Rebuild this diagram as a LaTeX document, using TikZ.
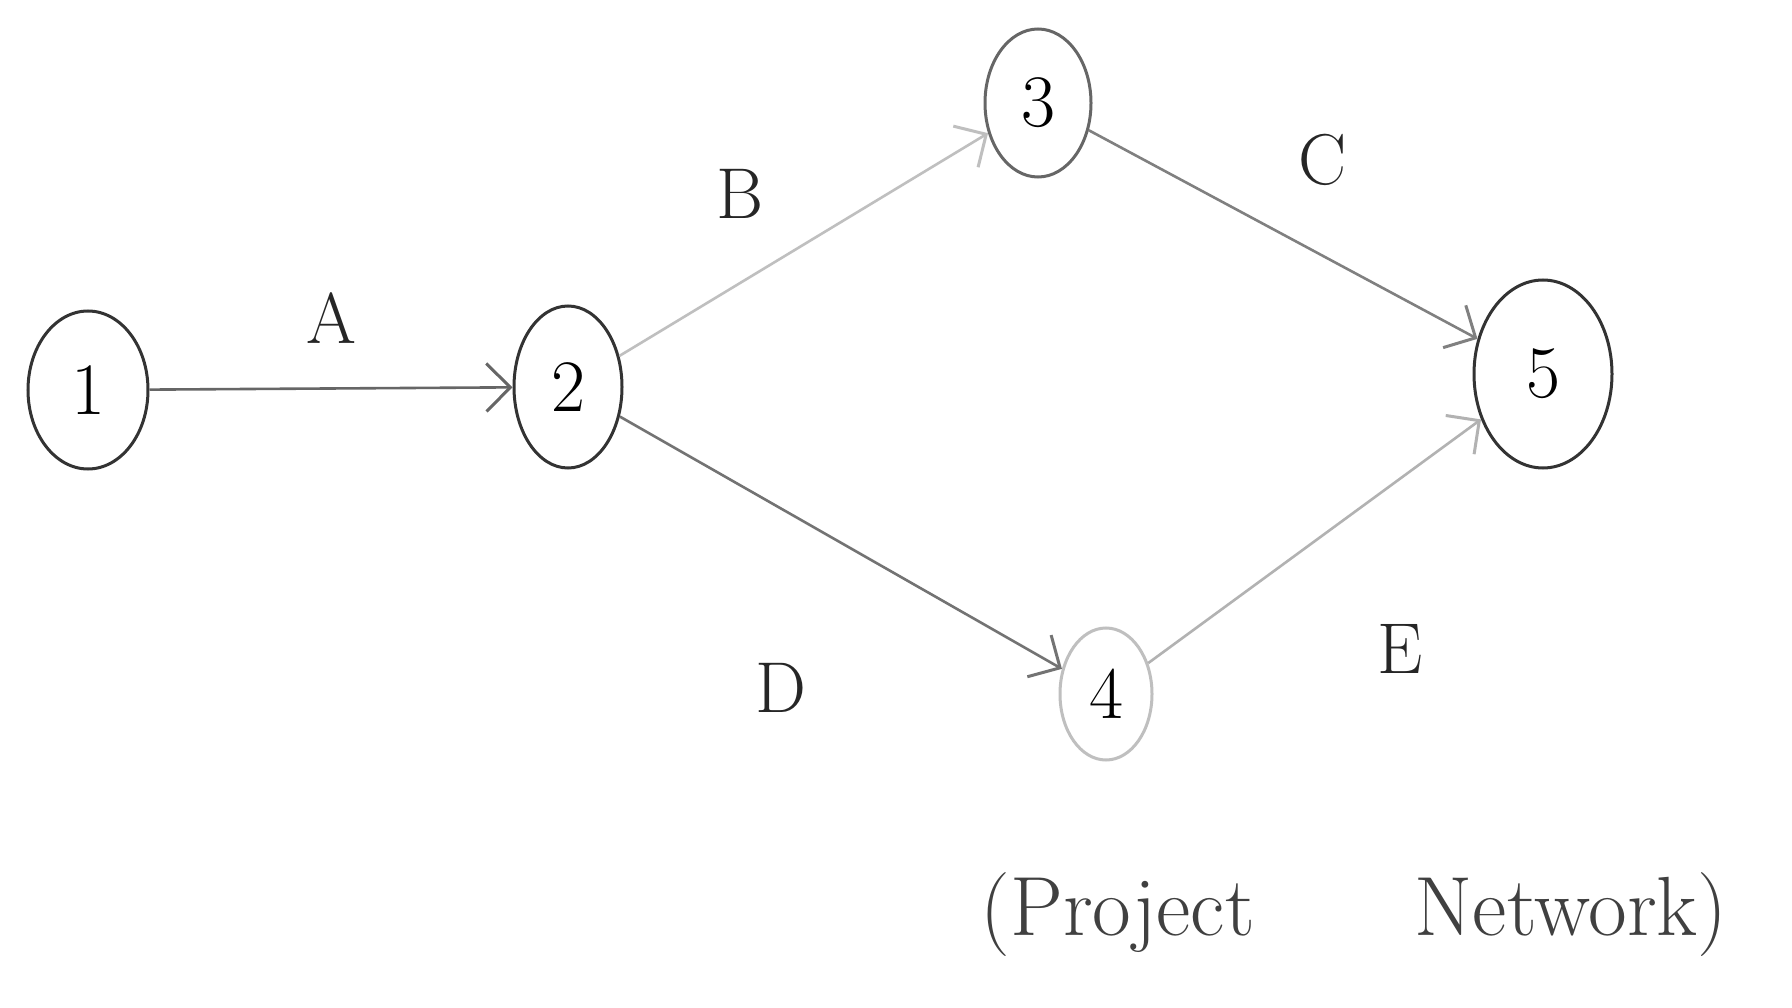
\documentclass[tikz,border=0pt]{standalone}
\usetikzlibrary{shapes.geometric,arrows.meta}
\begin{document}
\begin{tikzpicture}[x=1pt,y=-1pt,
  evt/.style={draw=black!80,line width=3pt,ellipse,inner sep=0pt,font=\fontsize{74}{80}\selectfont},
  act/.style={draw=black!45,line width=2.6pt,-{Straight Barb[length=24pt,width=48pt,line width=3pt]}},
  lbl/.style={font=\fontsize{72}{80}\selectfont,text=black!85}]
\useasboundingbox[fill=white] (0,0) rectangle (1792,1008);
\node[evt,minimum width=120pt,minimum height=158pt] (n1) at (88,390) {1};
\node[evt,minimum width=108pt,minimum height=162pt] (n2) at (568,387) {2};
\node[evt,draw=black!60,minimum width=106pt,minimum height=148pt] (n3) at (1038,103) {3};
\node[evt,draw=black!25,minimum width=92pt,minimum height=132pt] (n4) at (1106,694) {4};
\node[evt,minimum width=138pt,minimum height=188pt] (n5) at (1543,374) {5};
\draw[act,draw=black!60] (n1) -- (n2);
\draw[act,draw=black!25] (n2) -- (n3);
\draw[act,draw=black!50] (n3) -- (n5);
\draw[act,draw=black!55] (n2) -- (n4);
\draw[act,draw=black!30] (n4) -- (n5);
\node[lbl] (la) at (331,318) {A};
\node[lbl] (lb) at (740,194) {B};
\node[lbl] (lc) at (1323,160) {C};
\node[lbl] (ld) at (781,688) {D};
\node[lbl] (le) at (1400,649) {E};
\node[lbl,font=\fontsize{84}{92}\selectfont,text=black!75] (cap) at (1354,915) {(Project\hspace{160pt}Network)};
\end{tikzpicture}
\end{document}
